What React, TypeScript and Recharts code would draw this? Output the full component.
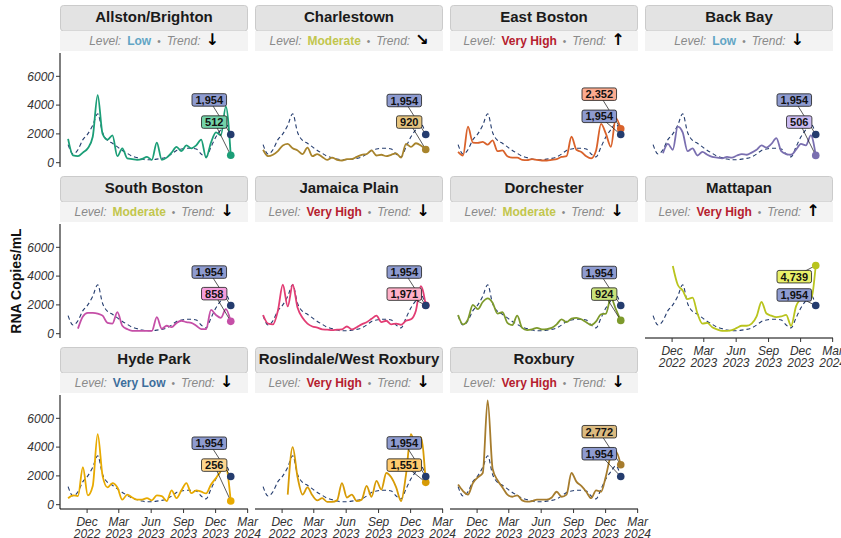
import React from 'react';
import { ComposedChart, Line, Scatter, XAxis, YAxis } from 'recharts';

// ---------- data ----------
const dates = [
  '2022-10-08', '2022-10-22', '2022-11-05', '2022-11-19', '2022-12-03', '2022-12-17', '2022-12-31',
  '2023-01-14', '2023-01-28', '2023-02-11', '2023-02-25', '2023-03-11', '2023-03-25', '2023-04-08',
  '2023-04-22', '2023-05-06', '2023-05-20', '2023-06-03', '2023-06-17', '2023-07-01', '2023-07-15',
  '2023-07-29', '2023-08-12', '2023-08-26', '2023-09-09', '2023-09-23', '2023-10-07', '2023-10-21',
  '2023-11-04', '2023-11-18', '2023-12-02', '2023-12-16', '2023-12-30', '2024-01-13',
];

const citywide = [1250, 600, 900, 1600, 2000, 2600, 3400, 2100, 1550, 1350, 1100, 850, 650, 450, 350, 250, 200, 200, 250, 300, 400, 600, 850, 950, 1000, 1000, 950, 600, 400, 1100, 1800, 2300, 2700, 1954];

const allstonBrighton = [1650, 500, 450, 700, 1000, 1800, 4700, 2000, 1600, 1900, 450, 1000, 300, 250, 200, 250, 400, 200, 1400, 200, 350, 700, 1100, 800, 1200, 1000, 1200, 1600, 350, 1400, 2100, 1900, 3900, 512];
const charlestown = [900, 450, 550, 800, 1200, 1300, 1000, 850, 600, 1050, 450, 600, 400, 200, 350, 200, 150, 250, 250, 400, 550, 600, 850, 500, 550, 450, 550, 650, 350, 1300, 1100, 1350, 1200, 920];
const eastBoston = [750, 500, 2500, 1400, 1380, 1450, 1250, 1550, 800, 850, 450, 350, 350, 200, 180, 250, 200, 150, 150, 200, 250, 400, 450, 1800, 900, 750, 450, 300, 850, 2700, 2000, 1100, 3100, 2352];
const backBay = [null, null, 650, 1300, 900, 2500, 2100, 800, 1000, 500, 750, 550, 400, 350, 300, 400, 350, 500, 600, 550, 700, 900, 1200, 1050, 1300, 1700, 800, 600, 550, 900, 1300, 1200, 1900, 506];
const southBoston = [null, null, 350, 1200, 1450, 1450, 1400, 1250, 750, 700, 1500, 550, 320, 200, 200, 200, 200, 200, 1150, 350, 550, 450, 750, 900, 800, 750, 550, 320, 320, 1650, 1300, 1100, 1700, 858];
const jamaicaPlain = [1300, 700, 650, 1600, 3400, 1900, 3400, 1800, 1100, 700, 500, 420, 300, 280, 250, 280, 300, 500, 300, 450, 650, 800, 1030, 1250, 800, 900, 650, 700, 620, 900, 1000, 1600, 3300, 1971];
const dorchester = [1300, 650, 1000, 2000, 1700, 2200, 2450, 2150, 1400, 1500, 750, 600, 1250, 400, 250, 300, 400, 300, 320, 400, 650, 1000, 800, 1050, 1100, 1000, 800, 600, 850, 1350, 1400, 2500, 1700, 924];
const mattapan = [null, null, null, null, 4700, 3400, 3000, 2400, 2500, 1400, 700, 750, 450, 300, 200, 200, 250, 400, 550, 550, 700, 1200, 2200, 1400, 1250, 1150, 1200, 1300, 550, 1900, 2450, 2900, 2400, 4739];
const hydePark = [450, 650, 600, 2600, 650, 1300, 4900, 2000, 1200, 1500, 1200, 350, 700, 500, 350, 350, 450, 300, 650, 600, 250, 1000, 450, 1000, 1500, 800, 1000, 900, 780, 1400, 1850, 2350, 2550, 256];
const roslindale = [null, null, null, null, null, 700, 4000, 1900, 700, 1200, 650, 300, 450, 200, 200, 300, 1500, 500, 700, 250, 350, 1300, 550, 1650, 1050, 2200, 1900, 1200, 250, 2100, 4900, 4000, 4700, 1551];
const roxbury = [1400, 950, 700, 1500, 1900, 2200, 7250, 2500, 1700, 1200, 700, 550, 650, 300, 210, 250, 350, 350, 350, 500, 900, 550, 700, 2200, 1600, 1300, 900, 450, 1000, 900, 2000, 3400, 3700, 2772];

const neighborhoodNames = [
  'Allston/Brighton', 'Charlestown', 'East Boston', 'Back Bay',
  'South Boston', 'Jamaica Plain', 'Dorchester', 'Mattapan',
  'Hyde Park', 'Roslindale/West Roxbury', 'Roxbury',
];
const neighborhoodSeries = [
  allstonBrighton, charlestown, eastBoston, backBay,
  southBoston, jamaicaPlain, dorchester, mattapan,
  hydePark, roslindale, roxbury,
];
const levels = ['Low', 'Moderate', 'Very High', 'Low', 'Moderate', 'Very High', 'Moderate', 'Very High', 'Very Low', 'Very High', 'Very High'];
const trends = ['↓', '↘', '↑', '↓', '↓', '↓', '↓', '↑', '↓', '↓', '↓'];

const xTickDates = ['2022-12-01', '2023-03-01', '2023-06-01', '2023-09-01', '2023-12-01', '2024-03-01'];
const yTicks = [0, 2000, 4000, 6000];

// label placement (in data units, repelled labels)
const cityLabelY = [4360, 4320, 3220, 4350, 4280, 4280, 4250, 2690, 4270, 4290, 3540];
const localLabelY = [2820, 2820, 4760, 2820, 2780, 2750, 2750, 3960, 2750, 2750, 5070];
const LABEL_X_LONG = '2023-11-13';
const LABEL_X_SHORT = '2023-11-27';

// ---------- styles ----------
const FONT = '"Liberation Sans", Arial, Helvetica, sans-serif';
const NAVY = '#243c6e';
const CITY_FILL = '#8e9bd0';
const lineColors = ['#1b9e77', '#a8842c', '#d9622b', '#7a6fb0', '#c54fa7', '#e23d74', '#7d9a2c', '#b9c41d', '#e8aa00', '#d79b06', '#a67c2d'];
const labelFills = ['#74d3a9', '#e7c57f', '#fbab8f', '#cbbbf2', '#f59edc', '#ffb0c8', '#c9e27a', '#e9f06a', '#ffd68e', '#ffca6e', '#dcbb80'];
const levelColors: Record<string, string> = {
  'Very Low': '#3d6e9c',
  'Low': '#62a5c5',
  'Moderate': '#c2c64d',
  'Very High': '#b5202e',
};

const COL_LEFT = [60, 255, 450, 645];
const ROW_TOP = [53, 224, 395];
const PW = 188;
const PH = 114;
const LEFT = 60;
const BOTTOM = 34;
const RIGHT = 26;

const DAY = 86400000;
const toDay = (s: string) => Date.parse(s) / DAY;
const X_DOMAIN = [toDay('2022-09-15'), toDay('2024-03-02')];
const Y_DOMAIN = [-300, 7620];
const MONTHS = ['Jan', 'Feb', 'Mar', 'Apr', 'May', 'Jun', 'Jul', 'Aug', 'Sep', 'Oct', 'Nov', 'Dec'];

const fmt = (n: number) => n.toLocaleString('en-US');
const textW = (s: string) => {
  let w = 0;
  for (const ch of s) w += ch === ',' ? 0.278 : 0.556;
  return w * 11;
};

const DateTick = (props: any) => {
  const { x, y, payload } = props;
  const d = new Date(payload.value * DAY);
  return (
    <text x={x} y={y} textAnchor="middle" fontFamily={FONT} fontStyle="italic" fontSize={12} fill="#333">
      <tspan x={x} dy={11}>{MONTHS[d.getUTCMonth()]}</tspan>
      <tspan x={x} dy={11.7}>{d.getUTCFullYear()}</tspan>
    </text>
  );
};

const dotShape = (color: string) => (p: any) => (
  <circle cx={p.cx} cy={p.cy} r={3.8} fill={color} />
);

const labelShape = (fill: string, text: string) => (p: any) => {
  const w = textW(text) + 7;
  const h = 12.5;
  return (
    <g>
      <rect x={p.cx - w / 2} y={p.cy - h / 2} width={w} height={h} rx={2} ry={2} fill={fill} stroke="#1a1a1a" strokeWidth={0.8} />
      <text x={p.cx} y={p.cy + 4} textAnchor="middle" fontFamily={FONT} fontWeight="bold" fontSize={11} fill="#111">{text}</text>
    </g>
  );
};

function Panel({ idx }: { idx: number }) {
  const row = Math.floor(idx / 4);
  const col = idx % 4;
  const showY = col === 0;
  const showX = row === 2 || (row === 1 && col === 3);
  const local = neighborhoodSeries[idx];
  const rows = dates.map((d, i) => ({ t: toDay(d), city: citywide[i], local: local[i] }));
  const last = rows.length - 1;
  const tLast = rows[last].t;
  const cityVal = citywide[last];
  const localVal = local[last] as number;
  const cityText = fmt(cityVal);
  const localText = fmt(localVal);
  const lx = (txt: string) => toDay(txt.length > 3 ? LABEL_X_LONG : LABEL_X_SHORT);
  const color = lineColors[idx];

  return (
    <div style={{ position: 'absolute', left: COL_LEFT[col] - LEFT, top: ROW_TOP[row] }}>
      <ComposedChart
        width={LEFT + PW + RIGHT}
        height={PH + BOTTOM}
        margin={{ top: 0, right: RIGHT, bottom: showX ? 0 : BOTTOM, left: showY ? 0 : LEFT }}
      >
        <XAxis
          type="number"
          dataKey="t"
          domain={X_DOMAIN}
          ticks={xTickDates.map(toDay)}
          interval={0}
          allowDataOverflow
          hide={!showX}
          height={BOTTOM}
          tickSize={4}
          tickMargin={2}
          axisLine={{ stroke: '#000', strokeWidth: 1 }}
          tickLine={{ stroke: '#333' }}
          tick={(p: any) => <DateTick {...p} />}
        />
        <YAxis
          type="number"
          domain={Y_DOMAIN}
          ticks={yTicks}
          interval={0}
          allowDataOverflow
          hide={!showY}
          width={LEFT}
          tickSize={4}
          tickMargin={2}
          axisLine={{ stroke: '#000', strokeWidth: 1 }}
          tickLine={{ stroke: '#333' }}
          tick={{ fontSize: 12, fontStyle: 'italic', fill: '#333', fontFamily: FONT }}
        />
        <Line data={rows} dataKey="city" type="monotone" stroke={NAVY} strokeWidth={1.1} strokeDasharray="4 3" dot={false} isAnimationActive={false} />
        <Line data={rows} dataKey="local" type="monotone" stroke={color} strokeWidth={1.8} dot={false} isAnimationActive={false} />
        <Line data={[{ t: lx(cityText), v: cityLabelY[idx] }, { t: tLast, v: cityVal }]} dataKey="v" stroke="#111" strokeWidth={0.7} dot={false} isAnimationActive={false} />
        <Line data={[{ t: lx(localText), v: localLabelY[idx] }, { t: tLast, v: localVal }]} dataKey="v" stroke="#111" strokeWidth={0.7} dot={false} isAnimationActive={false} />
        <Scatter data={[{ t: tLast, v: localVal }]} dataKey="v" shape={dotShape(color)} isAnimationActive={false} />
        <Scatter data={[{ t: tLast, v: cityVal }]} dataKey="v" shape={dotShape(NAVY)} isAnimationActive={false} />
        <Scatter data={[{ t: lx(localText), v: localLabelY[idx] }]} dataKey="v" shape={labelShape(labelFills[idx], localText)} isAnimationActive={false} />
        <Scatter data={[{ t: lx(cityText), v: cityLabelY[idx] }]} dataKey="v" shape={labelShape(CITY_FILL, cityText)} isAnimationActive={false} />
      </ComposedChart>
    </div>
  );
}

function Strips() {
  return (
    <svg width={841} height={538} style={{ position: 'absolute', left: 0, top: 0 }}>
      {neighborhoodNames.map((name, idx) => {
        const row = Math.floor(idx / 4);
        const col = idx % 4;
        const x = COL_LEFT[col];
        const top = ROW_TOP[row] - 48;
        const cx = x + PW / 2;
        return (
          <g key={name}>
            <rect x={x + 0.5} y={top + 0.5} width={PW - 1} height={25.5} rx={3} ry={3} fill="#e3e3e3" stroke="#cbcbcb" strokeWidth={1} />
            <text x={cx} y={top + 17} textAnchor="middle" fontFamily={FONT} fontWeight="bold" fontSize={15} fill="#1a1a1a">{name}</text>
            <rect x={x} y={top + 26} width={PW} height={20} fill="#f3f3f3" />
            <text x={cx} y={top + 40} textAnchor="middle" fontFamily={FONT} fontSize={12}>
              <tspan fontStyle="italic" fill="#8a8a8a">Level:</tspan>
              <tspan dx={6} fontWeight="bold" fill={levelColors[levels[idx]]}>{levels[idx]}</tspan>
              <tspan dx={6} fill="#8a8a8a" fontSize={10}>•</tspan>
              <tspan dx={6} fontStyle="italic" fill="#8a8a8a">Trend:</tspan>
              <tspan dx={5} fontFamily="DejaVu Sans" fontWeight="bold" fontSize={16} fill="#000">{trends[idx]}</tspan>
            </text>
          </g>
        );
      })}
      <text x={16} y={281} transform="rotate(-90 16 281)" textAnchor="middle" dominantBaseline="central" fontFamily={FONT} fontWeight="bold" fontSize={14} fill="#111">RNA Copies/mL</text>
    </svg>
  );
}

export default function App() {
  return (
    <div style={{ position: 'absolute', left: 0, top: 0, width: 841, height: 538, background: '#fff', overflow: 'hidden' }}>
      <Strips />
      {neighborhoodNames.map((n, i) => <Panel key={n} idx={i} />)}
    </div>
  );
}
